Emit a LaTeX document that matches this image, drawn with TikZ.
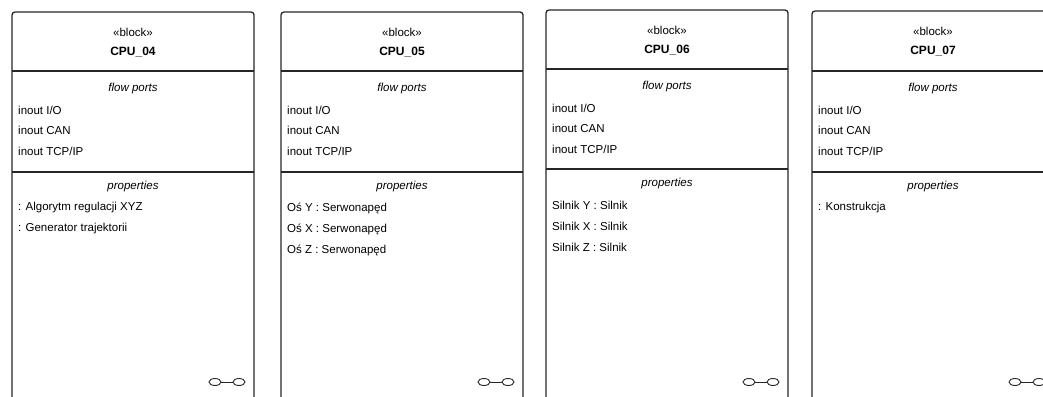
\documentclass[tikz,border=0pt]{standalone}
\usepackage{fontspec}
\setmainfont{Liberation Sans}
\usetikzlibrary{calc}
% generic block: #1 id, #2 left, #3 right, #4 top, #5 first divider, #6 second divider, #7 name
\newcommand\cpublk[7]{%
  \draw[frame] (#2,400) -- (#2,#4) -- (#3,#4) -- (#3,400);
  \draw[sep] (#2,#5) -- (#3,#5);
  \draw[sep] (#2,#6) -- (#3,#6);
  \node[ctr] (#1st) at ({(#2+#3)/2},#4+20) {«block»};
  \node[ttl] (#1nm) at ({(#2+#3)/2},#4+40) {#7};
  \node[ctr] (#1fp) at ({(#2+#3)/2},#5+18) {\itshape flow ports};
  \node[itm] (#1p1) at (#2+6,#5+39) {inout I/O};
  \node[itm] (#1p2) at (#2+6,#5+59) {inout CAN};
  \node[itm] (#1p3) at (#2+6,#5+80) {inout TCP/IP};
  \node[ctr] (#1pr) at ({(#2+#3)/2},#6+15) {\itshape properties};
  \coordinate (#1lk) at (#3-9,382);
  \draw[link] ($(#1lk)+(-6,0)$) ellipse (6 and 3.5);
  \draw[link] ($(#1lk)+(-30,0)$) ellipse (6 and 3.5);
  \draw[link] ($(#1lk)+(-24,0)$) -- ($(#1lk)+(-12,0)$);
}
\begin{document}
\begin{tikzpicture}[x=1pt,y=-1pt,
  frame/.style={draw=black!85,line width=1.3pt,rounded corners=3pt},
  sep/.style={draw=black!85,line width=1.2pt},
  ctr/.style={inner sep=0pt,anchor=center,font=\fontsize{11.5}{12}\selectfont},
  itm/.style={inner sep=0pt,anchor=west,font=\fontsize{11.5}{12}\selectfont},
  ttl/.style={inner sep=0pt,anchor=center,font=\fontsize{12}{13}\selectfont\bfseries},
  link/.style={draw=black!85,line width=0.9pt}]
\useasboundingbox (0,0) rectangle (1043,396);
\cpublk{a}{12}{254}{12}{71}{172}{CPU\_04}
\node[itm] (aq1) at (18,208) {: Algorytm regulacji XYZ};
\node[itm] (aq2) at (18,229) {: Generator trajektorii};
\cpublk{b}{281}{523}{12}{71}{172}{CPU\_05}
\node[itm] (bq1) at (287,208) {Oś Y : Serwonapęd};
\node[itm] (bq2) at (287,229) {Oś X : Serwonapęd};
\node[itm] (bq3) at (287,250) {Oś Z : Serwonapęd};
\cpublk{c}{546}{788}{10}{69}{169}{CPU\_06}
\node[itm] (cq1) at (552,205) {Silnik Y : Silnik};
\node[itm] (cq2) at (552,226) {Silnik X : Silnik};
\node[itm] (cq3) at (552,247) {Silnik Z : Silnik};
\cpublk{d}{812}{1054}{11}{71}{172}{CPU\_07}
\node[itm] (dq1) at (818,208) {: Konstrukcja};
\end{tikzpicture}
\end{document}
